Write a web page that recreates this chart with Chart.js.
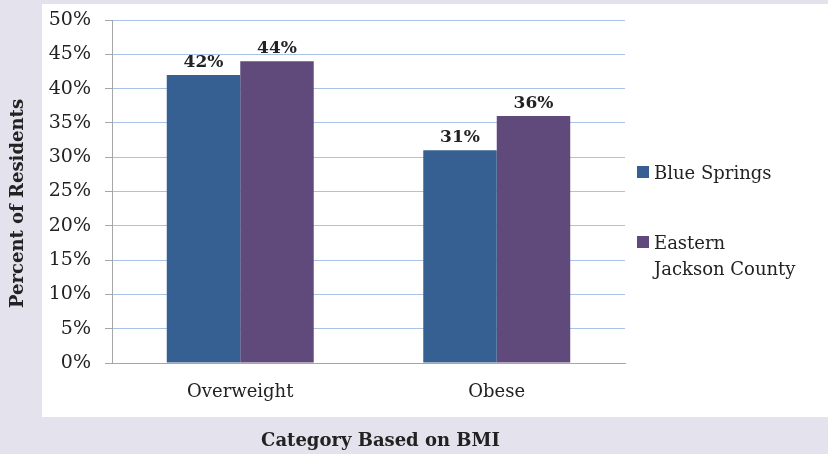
<!DOCTYPE html>
<html>
<head>
<meta charset="utf-8">
<title>BMI categories</title>
<script src="https://cdn.jsdelivr.net/npm/chart.js@4.4.1/dist/chart.umd.min.js"></script>
<style>
  html, body { margin: 0; padding: 0; background: #e4e2ec; }
  #wrap { position: relative; width: 828px; height: 454px; overflow: hidden; }
  #panel { position: absolute; left: 42px; top: 4px; width: 786px; height: 413px; background: #ffffff; }
  #chart { position: absolute; left: 0; top: 0; }
</style>
</head>
<body>
<div id="wrap">
  <div id="panel"></div>
  <canvas id="chart" width="828" height="454"></canvas>
</div>
<script>
  // data
  var categories = ["Overweight", "Obese"];
  var blueSprings = [42, 31];
  var easternJackson = [44, 36];
  var seriesNames = ["Blue Springs", "Eastern Jackson County"];
  var legendLines = [["Blue Springs"], ["Eastern", "Jackson County"]];
  var yTickLabels = ["0%", "5%", "10%", "15%", "20%", "25%", "30%", "35%", "40%", "45%", "50%"];
  var yTitle = "Percent of Residents";
  var xTitle = "Category Based on BMI";

  var serif = "'DejaVu Serif', serif";
  var textColor = "#222222";
  var axisGray = "#a6a6a6";
  var gridBlue = "#a9c2ea";

  // value labels above each bar
  var barLabels = {
    id: "barLabels",
    afterDatasetsDraw: function (chart) {
      var ctx = chart.ctx;
      ctx.save();
      ctx.font = "bold 17px " + serif;
      ctx.fillStyle = textColor;
      ctx.textAlign = "center";
      ctx.textBaseline = "alphabetic";
      chart.data.datasets.forEach(function (ds, i) {
        chart.getDatasetMeta(i).data.forEach(function (bar, j) {
          ctx.fillText(ds.data[j] + "%", bar.x, bar.y - 8);
        });
      });
      ctx.restore();
    }
  };

  // axis titles + legend (Excel style, wrapped)
  var decorations = {
    id: "decorations",
    afterDraw: function (chart) {
      var ctx = chart.ctx;
      var area = chart.chartArea;
      ctx.save();
      ctx.fillStyle = textColor;
      ctx.font = "bold 18px " + serif;
      ctx.textAlign = "center";
      ctx.textBaseline = "middle";
      ctx.fillText(xTitle, (area.left + area.right) / 2 + 12, 441);
      ctx.save();
      ctx.translate(18.5, (area.top + area.bottom) / 2 + 12);
      ctx.rotate(-Math.PI / 2);
      ctx.fillText(yTitle, 0, 0);
      ctx.restore();

      // legend
      var itemTops = [166, 236];
      ctx.font = "18px " + serif;
      ctx.textAlign = "left";
      ctx.textBaseline = "alphabetic";
      chart.data.datasets.forEach(function (ds, i) {
        var top = itemTops[i];
        ctx.fillStyle = ds.backgroundColor;
        ctx.fillRect(637, top, 12, 12);
        ctx.fillStyle = textColor;
        legendLines[i].forEach(function (line, k) {
          ctx.fillText(line, 654, top + 13 + k * 26);
        });
      });
      ctx.restore();
    }
  };

  var ctx1 = document.getElementById("chart").getContext("2d");
  var myChart = new Chart(ctx1, {
    type: "bar",
    data: {
      labels: categories,
      datasets: [{
        label: seriesNames[0],
        data: blueSprings,
        backgroundColor: "#366092"
      },
      {
        label: seriesNames[1],
        data: easternJackson,
        backgroundColor: "#604a7b"
      }]
    },
    options: {
      responsive: false,
      animation: false,
      layout: {
        padding: { top: 20, right: 203, bottom: 0, left: 0 }
      },
      categoryPercentage: 0.573,
      barPercentage: 1.0,
      plugins: {
        legend: { display: false },
        tooltip: { enabled: false }
      },
      scales: {
        x: {
          grid: { display: false, drawTicks: false },
          border: { display: true, color: axisGray, width: 1 },
          ticks: {
            padding: 19,
            color: textColor,
            font: { family: serif, size: 18 }
          },
          afterFit: function (scale) { scale.height = 91; }
        },
        y: {
          min: 0,
          max: 50,
          grid: {
            color: function (c) { return c.tick && c.tick.value === 0 ? axisGray : gridBlue; },
            tickColor: axisGray,
            tickLength: 7
          },
          border: { display: true, color: axisGray, width: 1 },
          ticks: {
            stepSize: 5,
            padding: 14,
            color: textColor,
            font: { family: serif, size: 19 },
            callback: function (v, i) { return yTickLabels[i]; }
          },
          afterFit: function (scale) {
            scale.width = 112;
            // tick padding is horizontal here, don't let it push the plot down
            scale.paddingTop = 0;
            scale.paddingBottom = 0;
          }
        }
      }
    },
    plugins: [barLabels, decorations]
  });
</script>
</body>
</html>
